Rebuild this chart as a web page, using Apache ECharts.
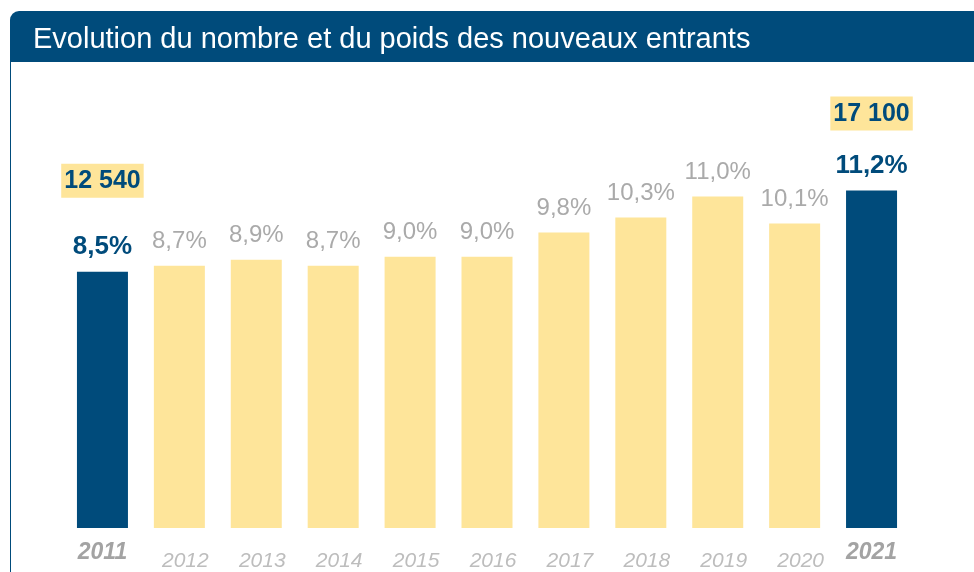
<!DOCTYPE html>
<html>
<head>
<meta charset="utf-8">
<script src="https://cdn.jsdelivr.net/npm/echarts@6/dist/echarts.min.js"></script>
<style>
    html, body { margin: 0; padding: 0; background: #fff; }
    #main { width: 974px; height: 572px; }
</style>
</head>
<body>
<div id="main"></div>
<script>
// données
var years = ['2011', '2012', '2013', '2014', '2015', '2016', '2017', '2018', '2019', '2020', '2021'];
var poids = [8.5, 8.7, 8.9, 8.7, 9.0, 9.0, 9.8, 10.3, 11.0, 10.1, 11.2];
var nombre = { '2011': '12 540', '2021': '17 100' };  // effectifs affichés aux extrémités

var bleu = '#004b7b';
var jaune = '#fee59a';

(function () {
    var myChart = echarts.init(document.getElementById('main'));

    var data = years.map(function (y, i) {
        var fort = nombre[y] !== undefined;
        return {
            value: poids[i],
            itemStyle: { color: fort ? bleu : jaune },
            label: fort ? {
                formatter: '{box|' + nombre[y] + '}\n{' + (i === 0 ? 'gapA' : 'gapB') + '| }\n{pct|' + poids[i].toFixed(1).replace('.', ',') + '%}'
            } : {}
        };
    });

    var option = {
        animation: false,
        grid: { left: 64, right: 64, top: 106, bottom: 42 },
        xAxis: {
            type: 'category',
            data: years,
            axisLine: { show: false },
            axisTick: { show: false },
            axisLabel: {
                margin: 13,
                formatter: function (v) {
                    return nombre[v] !== undefined ? '{b|' + v + '}' : '{n|' + v + '}';
                },
                rich: {
                    b: { fontFamily: 'Liberation Sans, Arial', fontSize: 23, fontWeight: 'bold', fontStyle: 'italic', color: '#a3a3a3' },
                    n: { fontFamily: 'Liberation Sans, Arial', fontSize: 21, fontStyle: 'italic', color: '#bdbdbd', padding: [10, 0, 0, 12] }
                }
            }
        },
        yAxis: { type: 'value', min: 0, max: 14, show: false, splitLine: { show: false } },
        series: [{
            type: 'bar',
            barWidth: 51,
            data: data,
            label: {
                show: true,
                position: 'top',
                distance: 12,
                fontFamily: 'Liberation Sans, Arial',
                fontSize: 24,
                color: '#aaaaaa',
                formatter: function (p) { return p.value.toFixed(1).replace('.', ',') + '%'; },
                rich: {
                    box: { fontFamily: 'Liberation Sans, Arial', fontSize: 25, fontWeight: 'bold', color: bleu, backgroundColor: jaune, padding: [5, 3, 4, 3], align: 'center' },
                    gapA: { lineHeight: 36, fontSize: 10 },
                    gapB: { lineHeight: 22, fontSize: 10 },
                    pct: { fontFamily: 'Liberation Sans, Arial', fontSize: 26, fontWeight: 'bold', color: bleu, align: 'center' }
                }
            }
        }],
        graphic: [
            { type: 'rect', shape: { x: 10, y: 11, width: 980, height: 51, r: [9, 0, 0, 0] }, style: { fill: bleu } },
            { type: 'line', shape: { x1: 10.5, y1: 62, x2: 10.5, y2: 572 }, style: { stroke: bleu, lineWidth: 1 } },
            { type: 'text', left: 33, top: 25, style: { text: 'Evolution du nombre et du poids des nouveaux entrants', fill: '#fff', font: '29px "Liberation Sans", Arial' } }
        ]
    };

    myChart.setOption(option);
})();
</script>
</body>
</html>
